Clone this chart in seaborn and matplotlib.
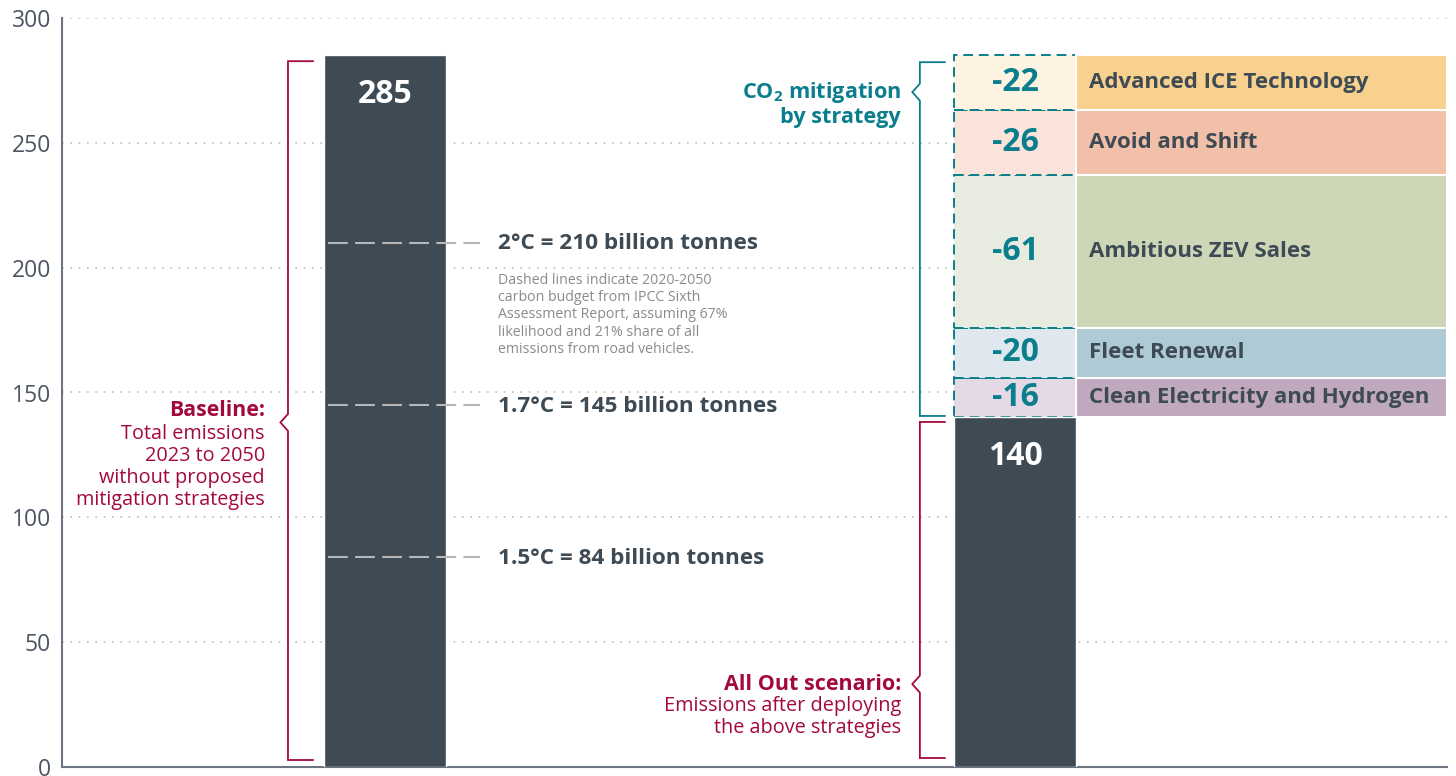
import numpy as np
import matplotlib.pyplot as plt
import pandas as pd
import seaborn as sns

# values in billion tonnes CO2, 2023-2050
scenarios = ["Baseline", "All Out"]
emissions = [285, 140]

strategies = ["Clean Electricity and Hydrogen", "Fleet Renewal", "Ambitious ZEV Sales",
              "Avoid and Shift", "Advanced ICE Technology"]
mitigation = [16, 20, 61, 26, 22]

budget_labels = ["2°C = 210 billion tonnes", "1.7°C = 145 billion tonnes", "1.5°C = 84 billion tonnes"]
budget_values = [210, 145, 84]

yticks = [0, 50, 100, 150, 200, 250, 300]

# colours
dark = "#3e4a54"
teal = "#0a7e8c"
crimson = "#a3093e"
seg_fill = ["#e4d9e4", "#dee8ee", "#e8ece0", "#f9e3da", "#fcf4e0"]
box_fill = ["#c0a8be", "#aecad4", "#cdd6b7", "#f2c0a8", "#f8d18e"]

sns.set_style("white")
plt.rcParams["font.family"] = ["Open Sans", "DejaVu Sans"]
plt.rcParams["mathtext.fontset"] = "custom"
plt.rcParams["mathtext.rm"] = "Open Sans"
plt.rcParams["mathtext.bf"] = "Open Sans:bold"

fig = plt.figure(figsize=(14.56, 7.76), dpi=100)
ax = fig.add_axes([62 / 1456, 1 - 767 / 776, (1447 - 62) / 1456, (767 - 18) / 776])

bw = 0.194
df = pd.DataFrame({"scenario": scenarios, "emissions": emissions})
sns.barplot(data=df, x="scenario", y="emissions", color=dark, saturation=1,
            width=bw, ax=ax, zorder=3)

# stacked mitigation segments above the All Out bar
bottoms = emissions[1] + np.concatenate([[0], np.cumsum(mitigation)[:-1]])
ax.bar(1, mitigation, bottom=bottoms, width=bw, color=seg_fill,
       edgecolor=teal, linestyle=(0, (5, 3)), linewidth=1.4, zorder=2)
for b, v in zip(bottoms, mitigation):
    ax.text(1, b + v / 2, f"-{v}", ha="center", va="center", color=teal,
            fontsize=23, fontweight="bold", zorder=5)

# strategy label boxes
box_left = 1 + bw / 2
box_right = 1.686
ax.bar(box_left, mitigation, bottom=bottoms, width=box_right - box_left, align="edge",
       color=box_fill, edgecolor="white", linewidth=1.5, zorder=2)
for b, v, name in zip(bottoms, mitigation, strategies):
    ax.text(box_left + 0.021, b + v / 2, name, ha="left", va="center", color=dark,
            fontsize=16, fontweight="bold", zorder=5)

# totals on the dark bars
for i, v in enumerate(emissions):
    ax.text(i, v - 15.5, str(v), ha="center", va="center", color="white",
            fontsize=23, fontweight="bold", zorder=5)

# carbon budget lines
ax.hlines(budget_values, -bw / 2 + 0.006, 0.151, colors="#b8b8b8", linewidth=1.5,
          linestyles=(0, (9.5, 3.5)), zorder=4)
for v, lab in zip(budget_values, budget_labels):
    ax.text(0.179, v - 0.5, lab, ha="left", va="center", color=dark, fontsize=16.2,
            fontweight="bold", zorder=5)
ax.text(0.179, 198, "Dashed lines indicate 2020-2050\ncarbon budget from IPCC Sixth\n"
        "Assessment Report, assuming 67%\nlikelihood and 21% share of all\n"
        "emissions from road vehicles.", ha="left", va="top", color="#8a8a8a",
        fontsize=10.2, linespacing=1.22, zorder=5)


def brace(x, y0, y1, yn, color, tick=0.040, depth=0.012, half=3.4):
    xs = [x + tick, x, x, x - depth, x, x, x + tick]
    ys = [y1, y1, yn + half, yn, yn - half, y0, y0]
    ax.plot(xs, ys, color=color, linewidth=1.3, solid_joinstyle="miter", zorder=4)


brace(-bw / 2 - 0.057, 2.8, emissions[0] - 2.3, 138, crimson)
brace(1 - bw / 2 - 0.054, 3.6, emissions[1] - 1.8, 33.2, crimson)
brace(1 - bw / 2 - 0.054, emissions[1] + 0.6, emissions[0] - 2.7, 270.3, teal)

# annotations next to the braces
ax.text(-0.1905, 142.6, "Baseline:", ha="right", va="center", color=crimson,
        fontsize=15.3, fontweight="bold")
ax.text(-0.1905, 137.3, "Total emissions\n2023 to 2050\nwithout proposed\nmitigation strategies",
        ha="right", va="top", color=crimson, fontsize=14.3, linespacing=1.13)
ax.text(1 - 0.181, 33.2, "All Out scenario:", ha="right", va="center", color=crimson,
        fontsize=15.5, fontweight="bold")
ax.text(1 - 0.181, 28.3, "Emissions after deploying\nthe above strategies",
        ha="right", va="top", color=crimson, fontsize=14.3, linespacing=1.13)
ax.text(1 - 0.181, 265.5, "CO$_\\mathbf{2}$ mitigation\nby strategy", ha="right", va="center",
        color=teal, fontsize=15.6, fontweight="bold", linespacing=1.1)

# axes styling
ax.set_xlim(-0.5127, 1.6857)
ax.set_ylim(0, 300)
ax.set_yticks(yticks)
ax.set_xticks([])
ax.set_xlabel("")
ax.set_ylabel("")
ax.yaxis.grid(True, linestyle=(0, (1, 4)), color="#bdbdbd", linewidth=1.2)
ax.set_axisbelow(True)
for s in ["top", "right"]:
    ax.spines[s].set_visible(False)
for s in ["left", "bottom"]:
    ax.spines[s].set_color("#6b7480")
    ax.spines[s].set_linewidth(1.5)
ax.tick_params(axis="y", length=0, pad=8, labelsize=16.5, labelcolor="#4d5560")

fig.savefig("out.png", dpi=100)
